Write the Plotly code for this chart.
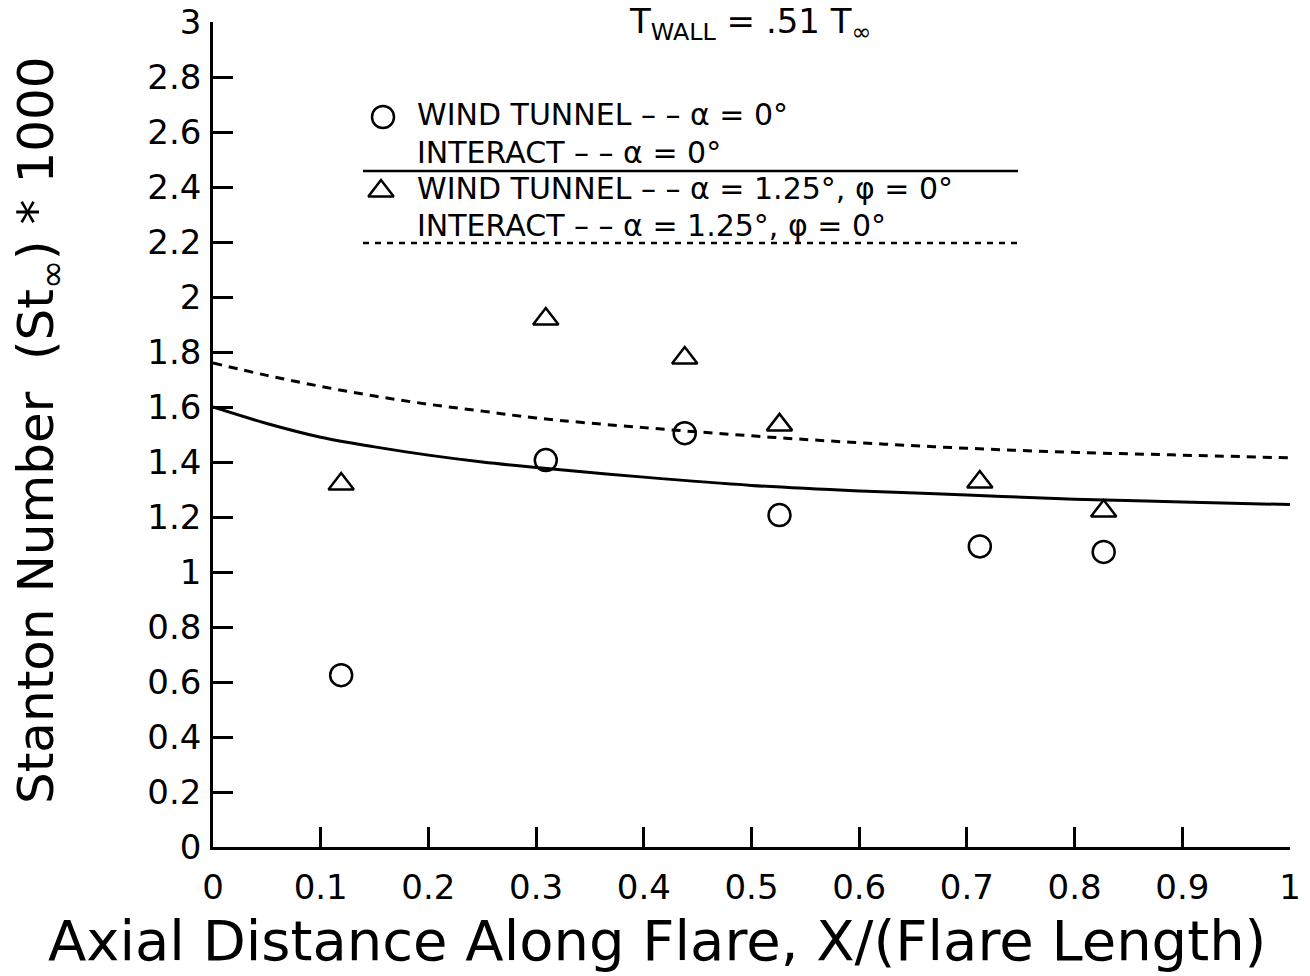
import plotly.graph_objects as go

# Data
wt_x0 = [0.119, 0.309, 0.438, 0.526, 0.712, 0.827]
wt_y0 = [0.625, 1.407, 1.505, 1.207, 1.093, 1.073]

wt_x125 = [0.119, 0.309, 0.438, 0.526, 0.712, 0.827]
wt_y125 = [1.32, 1.92, 1.778, 1.535, 1.327, 1.222]

curve_x = [0, 0.05, 0.1, 0.15, 0.2, 0.25, 0.3, 0.4, 0.5, 0.6, 0.7, 0.8, 0.9, 1.0]
interact_y0 = [1.60, 1.54, 1.49, 1.455, 1.425, 1.40, 1.38, 1.345, 1.315, 1.295, 1.28, 1.265, 1.255, 1.245]
interact_y125 = [1.76, 1.715, 1.675, 1.64, 1.61, 1.585, 1.56, 1.525, 1.495, 1.47, 1.45, 1.435, 1.425, 1.415]

x_ticks = [0, 0.1, 0.2, 0.3, 0.4, 0.5, 0.6, 0.7, 0.8, 0.9, 1]
x_ticklabels = ["0", "0.1", "0.2", "0.3", "0.4", "0.5", "0.6", "0.7", "0.8", "0.9", "1"]
y_ticks = [0, 0.2, 0.4, 0.6, 0.8, 1, 1.2, 1.4, 1.6, 1.8, 2, 2.2, 2.4, 2.6, 2.8, 3]
y_ticklabels = ["0", "0.2", "0.4", "0.6", "0.8", "1", "1.2", "1.4", "1.6", "1.8", "2", "2.2", "2.4", "2.6", "2.8", "3"]

legend_labels = [
    "WIND TUNNEL – – α = 0°",
    "INTERACT – – α = 0°",
    "WIND TUNNEL – – α = 1.25°, φ = 0°",
    "INTERACT – – α = 1.25°, φ = 0°",
]

W, H = 1310, 976
L, R, T, B = 213, 20, 22, 129
PW = W - L - R
PH = H - T - B
FONT = "DejaVu Sans"


def px(x):
    return (x - L) / PW


def py(y):
    return (H - B - y) / PH


fig = go.Figure()
fig.add_trace(go.Scatter(x=curve_x, y=interact_y0, mode="lines",
                         line=dict(color="black", width=3, shape="spline")))
fig.add_trace(go.Scatter(x=curve_x, y=interact_y125, mode="lines",
                         line=dict(color="black", width=3, dash="9px,7px", shape="spline")))
fig.add_trace(go.Scatter(x=wt_x0, y=wt_y0, mode="markers",
                         marker=dict(symbol="circle-open", size=22, color="black",
                                     line=dict(width=2.5, color="black"))))
fig.add_trace(go.Scatter(x=wt_x125, y=wt_y125, mode="markers",
                         marker=dict(symbol="triangle-up-open", size=22, color="black",
                                     line=dict(width=2.5, color="black"))))

# Legend (drawn inside the plot)
fig.add_trace(go.Scatter(x=[px(383)], y=[py(117)], xaxis="x2", yaxis="y2", mode="markers",
                         marker=dict(symbol="circle-open", size=22, color="black",
                                     line=dict(width=2.5, color="black"))))
fig.add_trace(go.Scatter(x=[px(381)], y=[py(191)], xaxis="x2", yaxis="y2", mode="markers",
                         marker=dict(symbol="triangle-up-open", size=22, color="black",
                                     line=dict(width=2.5, color="black"))))

fig.add_shape(type="line", xref="paper", yref="paper", x0=px(363), x1=px(1018),
              y0=py(171), y1=py(171), line=dict(color="black", width=2.5))
fig.add_shape(type="line", xref="paper", yref="paper", x0=px(363), x1=px(1018),
              y0=py(243), y1=py(243), line=dict(color="black", width=2.5, dash="6px,6px"))

leg_y = [115, 152, 189, 225]
for lab, yy in zip(legend_labels, leg_y):
    fig.add_annotation(x=px(416), y=py(yy), xref="paper", yref="paper", text=lab,
                       showarrow=False, xanchor="left", yanchor="middle", borderpad=0,
                       font=dict(family=FONT, size=30, color="black"))

# Title at top
fig.add_annotation(x=px(750), y=py(-1), xref="paper", yref="paper",
                   text="T<sub>WALL</sub> = .51 T<sub>∞</sub>", showarrow=False,
                   xanchor="center", yanchor="top",
                   font=dict(family=FONT, size=34, color="black"))

# Axis titles
fig.add_annotation(x=px(657), y=py(940), xref="paper", yref="paper",
                   text="Axial Distance Along Flare, X/(Flare Length)", showarrow=False,
                   xanchor="center", yanchor="middle", borderpad=0,
                   font=dict(family=FONT, size=56, color="black"))
fig.add_annotation(x=px(40), y=py(430), xref="paper", yref="paper",
                   text="Stanton Number\u00a0\u00a0(St<sub>∞</sub>) * 1000", showarrow=False,
                   textangle=-90, xanchor="center", yanchor="middle",
                   font=dict(family=FONT, size=50, color="black"))

fig.update_layout(
    width=W, height=H,
    margin=dict(l=L, r=R, t=T, b=B, autoexpand=False),
    paper_bgcolor="white", plot_bgcolor="white",
    showlegend=False,
    xaxis=dict(range=[0, 1], tickvals=x_ticks, ticktext=x_ticklabels, automargin=False,
               showgrid=False, zeroline=False, showline=True, linecolor="black", linewidth=2.5,
               ticks="inside", ticklen=20, tickwidth=2.5, tickcolor="black",
               ticklabelstandoff=8,
               tickfont=dict(family=FONT, size=34, color="black")),
    yaxis=dict(range=[0, 3], tickvals=y_ticks, ticktext=y_ticklabels, automargin=False,
               showgrid=False, zeroline=False, showline=True, linecolor="black", linewidth=2.5,
               ticks="inside", ticklen=20, tickwidth=2.5, tickcolor="black",
               ticklabelstandoff=2,
               tickfont=dict(family=FONT, size=34, color="black")),
    xaxis2=dict(range=[0, 1], overlaying="x", visible=False),
    yaxis2=dict(range=[0, 1], overlaying="y", visible=False),
)

fig.write_html("out.html")
